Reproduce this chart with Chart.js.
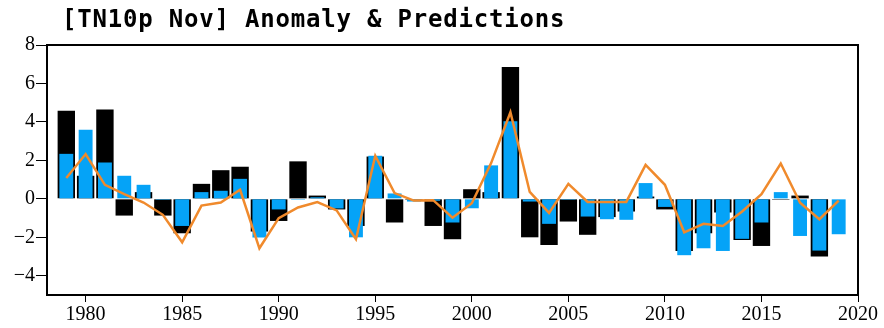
<!DOCTYPE html>
<html>
<head>
<meta charset="utf-8">
<script src="https://cdn.jsdelivr.net/npm/chart.js@4/dist/chart.umd.min.js"></script>
<style>
  html, body { margin: 0; padding: 0; background: #fff; }
  #wrap { width: 884px; height: 328px; position: relative; }
</style>
</head>
<body>
<div id="wrap"><canvas id="mycanvas" width="884" height="328"></canvas></div>
<script>
// TN10p Nov: observed anomaly (black), predictions (blue), fitted line (orange)
let years = [];
for (let y = 1979; y <= 2019; y++) years.push(y);

let anomaly = [
  4.58, 1.20, 4.64, -0.87, 0.35, -0.87, -1.79, 0.78, 1.49, 1.67,
  -1.70, -1.15, 1.95, 0.17, -0.55, -1.41, 2.20, -1.23, -0.05, -1.41,
  -2.10, 0.50, 0.35, 6.86, -2.00, -2.40, -1.18, -1.87, -0.95, -0.66,
  0.12, -0.55, -2.71, -1.79, -0.71, -2.14, -2.45, -0.05, 0.17, -3.00,
  0.00
];

let prediction = [
  2.34, 3.59, 1.89, 1.20, 0.73, -0.05, -1.41, 0.35, 0.42, 1.04,
  -2.01, -0.55, -0.05, 0.08, -0.50, -2.00, 2.24, 0.28, -0.14, -0.10,
  -1.23, -0.49, 1.74, 4.03, -0.14, -1.30, -0.05, -0.92, -1.06, -1.09,
  0.82, -0.42, -2.93, -2.57, -2.71, -2.08, -1.23, 0.35, -1.93, -2.69,
  -1.84
];

let fitted = [
  1.08, 2.33, 0.73, 0.25, -0.19, -0.83, -2.26, -0.35, -0.19, 0.47,
  -2.57, -1.00, -0.45, -0.17, -0.60, -2.10, 2.24, 0.30, -0.09, -0.07,
  -0.98, -0.23, 1.86, 4.50, 0.36, -0.73, 0.78, -0.16, -0.17, -0.16,
  1.77, 0.73, -1.74, -1.30, -1.41, -0.66, 0.24, 1.84, -0.20, -1.06,
  -0.09
];

let titleText = '[TN10p Nov] Anomaly & Predictions';

function pts(vals) {
  return years.map(function(yr, i) { return { x: yr, y: vals[i] }; });
}

// frame round the plot area + title text
const framePlugin = {
  id: 'frame',
  afterDraw: function(chart) {
    const ctx = chart.ctx;
    const a = chart.chartArea;
    ctx.save();
    ctx.strokeStyle = '#000';
    ctx.lineWidth = 2;
    ctx.strokeRect(a.left, a.top, a.right - a.left, a.bottom - a.top);
    ctx.fillStyle = '#000';
    ctx.font = 'bold 24px "DejaVu Sans Mono"';
    ctx.letterSpacing = '0.8px';
    ctx.textBaseline = 'alphabetic';
    ctx.fillText(titleText, 62, 27);
    ctx.restore();
  }
};

const tickFont = { family: '"Liberation Serif"', size: 20, lineHeight: 1 };

let ctx = document.getElementById('mycanvas');
var chart = new Chart(ctx, {
  data: {
    datasets: [
      {
        type: 'line',
        label: 'Fitted',
        data: pts(fitted),
        borderColor: '#f08a2c',
        borderWidth: 2.5,
        pointRadius: 0,
        tension: 0,
        fill: false,
        order: 0
      },
      {
        type: 'bar',
        label: 'Prediction',
        data: pts(prediction),
        backgroundColor: '#05a3f7',
        barPercentage: 0.72,
        categoryPercentage: 1,
        grouped: false,
        order: 1
      },
      {
        type: 'bar',
        label: 'Anomaly',
        data: pts(anomaly),
        backgroundColor: '#000',
        barPercentage: 0.9,
        categoryPercentage: 1,
        grouped: false,
        order: 2
      }
    ]
  },
  options: {
    responsive: false,
    animation: false,
    layout: { padding: { top: 45, right: 26, bottom: 3, left: 0 } },
    plugins: {
      legend: { display: false },
      tooltip: { enabled: false }
    },
    scales: {
      x: {
        type: 'linear',
        min: 1978,
        max: 2020,
        offset: false,
        afterFit: function(s) { s.height = 30; },
        grid: { offset: false, drawOnChartArea: false, drawTicks: true, tickLength: 7, color: '#000', lineWidth: 1 },
        border: { display: true, color: '#000', width: 2 },
        ticks: {
          stepSize: 5,
          includeBounds: false,
          color: '#000',
          font: tickFont,
          padding: 3,
          maxRotation: 0,
          callback: function(v) { return String(v); }
        }
      },
      y: {
        min: -5,
        max: 8,
        afterFit: function(s) { s.width = 47; },
        grid: { drawOnChartArea: false, drawTicks: true, tickLength: 11, color: '#000', lineWidth: 1 },
        border: { display: true, color: '#000', width: 2 },
        ticks: {
          stepSize: 2,
          includeBounds: false,
          color: '#000',
          font: tickFont,
          padding: 1,
          callback: function(v) { return v < 0 ? '\u2212' + Math.abs(v) : String(v); }
        }
      }
    }
  },
  plugins: [framePlugin]
});
</script>
</body>
</html>
